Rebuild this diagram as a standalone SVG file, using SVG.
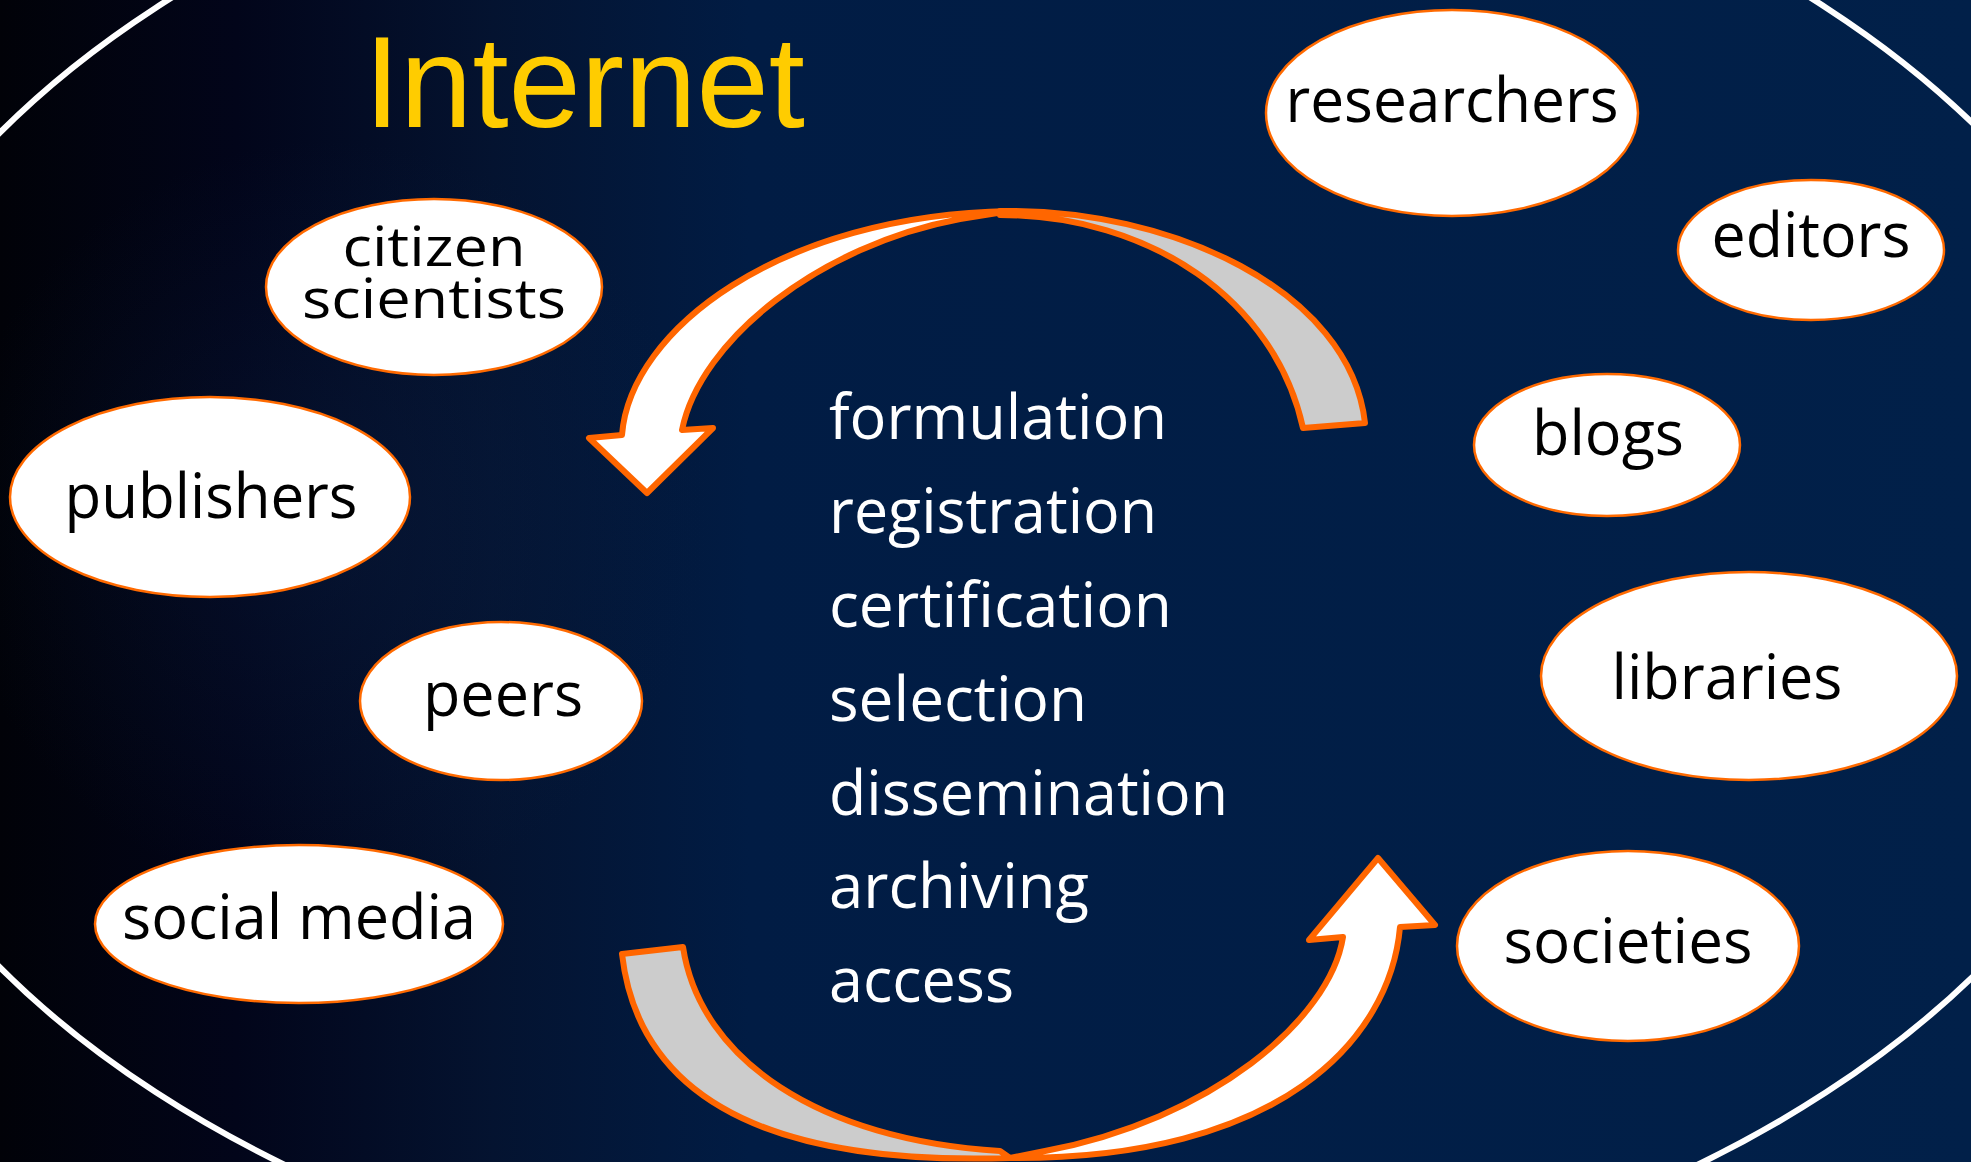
<svg xmlns="http://www.w3.org/2000/svg" width="1971" height="1162" viewBox="0 0 1971 1162">
<defs>
<linearGradient id="bg" x1="0" y1="0" x2="1" y2="0">
<stop offset="0" stop-color="#010208"/>
<stop offset="0.12" stop-color="#02051a"/>
<stop offset="0.25" stop-color="#041330"/>
<stop offset="0.38" stop-color="#011c44"/>
<stop offset="1" stop-color="#012049"/>
</linearGradient>
<radialGradient id="glow" cx="330" cy="520" r="380" gradientUnits="userSpaceOnUse">
<stop offset="0" stop-color="#0b2248" stop-opacity="0.35"/>
<stop offset="1" stop-color="#0b2248" stop-opacity="0"/>
</radialGradient>
<style>
.node ellipse{fill:#fff;stroke:#ff6a00;stroke-width:2.5}
.node text{font-family:"Open Sans","Liberation Sans",sans-serif;font-size:62px;fill:#000;text-anchor:middle}
.node text.two{font-size:54px}
.step{font-family:"Open Sans","Liberation Sans",sans-serif;font-size:62px;fill:#fff}
.arw{stroke:#ff6600;stroke-width:6;stroke-linejoin:round}
.back{fill:#cccccc}
.front{fill:#ffffff}
</style>
</defs>
<rect x="0" y="0" width="1971" height="1162" fill="url(#bg)"/>
<rect x="0" y="0" width="1971" height="1162" fill="url(#glow)"/>
<ellipse cx="991" cy="550" rx="1181" ry="767" fill="none" stroke="#ffffff" stroke-width="6"/>
<text x="364" y="127" font-family="'Liberation Sans',Arial,sans-serif" font-size="130" fill="#ffcc00">Internet</text>

<g id="arrows">
<path class="arw back" d="M1000,211 C1170,208 1350,290 1365,423 L1303,428 C1275,300 1150,215 1000,215 Z"/>
<path class="arw front" d="M622,435 C630,330 780,215 1010,211 L960,219 C820,245 700,340 682,430 L713,428 L647,493 L589,438 Z"/>
<path class="arw back" d="M622,954 C640,1110 790,1165 1010,1158 L1000,1151 C820,1140 700,1060 683,947 Z"/>
<path class="arw front" d="M1400,927 C1390,1040 1280,1160 1010,1158 L1045,1151 C1210,1120 1330,1020 1343,937 L1309,940 L1378,858 L1435,925 Z"/>
</g>

<g id="steps">
<text class="step" x="829" y="439" textLength="338" lengthAdjust="spacingAndGlyphs">formulation</text>
<text class="step" x="829" y="533" textLength="328" lengthAdjust="spacingAndGlyphs">registration</text>
<text class="step" x="829" y="627" textLength="343" lengthAdjust="spacingAndGlyphs">certification</text>
<text class="step" x="829" y="721" textLength="258" lengthAdjust="spacingAndGlyphs">selection</text>
<text class="step" x="829" y="815" textLength="399" lengthAdjust="spacingAndGlyphs">dissemination</text>
<text class="step" x="829" y="908" textLength="260" lengthAdjust="spacingAndGlyphs">archiving</text>
<text class="step" x="829" y="1002" textLength="185" lengthAdjust="spacingAndGlyphs">access</text>
</g>

<g id="researchers" class="node"><ellipse cx="1452" cy="113" rx="186" ry="103"/><text x="1452" y="122" textLength="333" lengthAdjust="spacingAndGlyphs">researchers</text></g>
<g id="editors" class="node"><ellipse cx="1811" cy="250" rx="133" ry="70"/><text x="1811" y="257" textLength="199" lengthAdjust="spacingAndGlyphs">editors</text></g>
<g id="blogs" class="node"><ellipse cx="1607" cy="445" rx="133" ry="71"/><text x="1608" y="455" textLength="152" lengthAdjust="spacingAndGlyphs">blogs</text></g>
<g id="libraries" class="node"><ellipse cx="1749" cy="676" rx="208" ry="104"/><text x="1727" y="699" textLength="231" lengthAdjust="spacingAndGlyphs">libraries</text></g>
<g id="societies" class="node"><ellipse cx="1628" cy="946" rx="171" ry="95"/><text x="1628" y="963" textLength="249" lengthAdjust="spacingAndGlyphs">societies</text></g>
<g id="citizen-scientists" class="node"><ellipse cx="434" cy="287" rx="168" ry="88"/><text class="two" x="434" y="266" textLength="183" lengthAdjust="spacingAndGlyphs">citizen</text><text class="two" x="434" y="318" textLength="264" lengthAdjust="spacingAndGlyphs">scientists</text></g>
<g id="publishers" class="node"><ellipse cx="210" cy="497" rx="200" ry="100"/><text x="211" y="518" textLength="293" lengthAdjust="spacingAndGlyphs">publishers</text></g>
<g id="peers" class="node"><ellipse cx="501" cy="701" rx="141" ry="79"/><text x="503" y="716" textLength="160" lengthAdjust="spacingAndGlyphs">peers</text></g>
<g id="social-media" class="node"><ellipse cx="299" cy="924" rx="204" ry="79"/><text x="299" y="939" textLength="354" lengthAdjust="spacingAndGlyphs">social media</text></g>
</svg>
